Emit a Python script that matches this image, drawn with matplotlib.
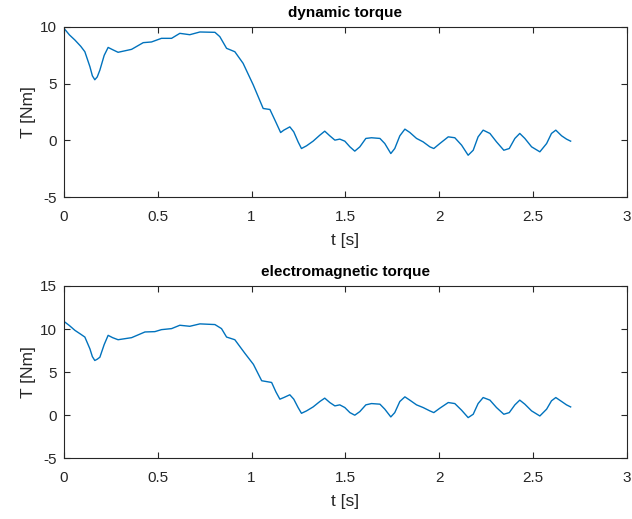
import numpy as np
import matplotlib
matplotlib.use("Agg")
from matplotlib import pyplot as plt

# values
t_dyn = [0.0, 0.03, 0.059, 0.09, 0.112, 0.139, 0.152, 0.165, 0.178, 0.192, 0.215, 0.236, 0.26, 0.289,
         0.361, 0.423, 0.467, 0.52, 0.574, 0.618, 0.671, 0.725, 0.805, 0.831, 0.867, 0.911,
         0.955, 1.009, 1.062, 1.098, 1.13, 1.155, 1.172, 1.204, 1.225, 1.248, 1.266, 1.293,
         1.328, 1.364, 1.39, 1.417, 1.444, 1.47, 1.497, 1.524, 1.55, 1.577, 1.609, 1.639,
         1.684, 1.71, 1.742, 1.763, 1.79, 1.817, 1.843, 1.879, 1.914, 1.95, 1.971, 2.003,
         2.048, 2.083, 2.119, 2.154, 2.181, 2.207, 2.234, 2.27, 2.305, 2.344, 2.373, 2.403,
         2.429, 2.456, 2.492, 2.536, 2.572, 2.598, 2.621, 2.652, 2.678, 2.70]
T_dyn = [9.9, 9.3, 8.85, 8.3, 7.82, 6.5, 5.7, 5.35, 5.6, 6.2, 7.5, 8.2, 8.0, 7.77,
         8.03, 8.62, 8.68, 9.0, 9.0, 9.44, 9.32, 9.56, 9.53, 9.15, 8.12, 7.82,
         6.8, 4.9, 2.82, 2.73, 1.6, 0.7, 0.91, 1.2, 0.76, -0.12, -0.71, -0.47,
         -0.06, 0.47, 0.82, 0.41, 0.03, 0.12, -0.06, -0.56, -0.94, -0.56, 0.18, 0.24,
         0.18, -0.27, -1.15, -0.71, 0.41, 1.0, 0.71, 0.18, -0.12, -0.56, -0.71, -0.27,
         0.32, 0.24, -0.41, -1.3, -0.86, 0.32, 0.91, 0.62, -0.12, -0.86, -0.71, 0.18,
         0.62, 0.18, -0.56, -1.0, -0.27, 0.62, 0.91, 0.41, 0.12, -0.06]

t_em = [0.0, 0.03, 0.059, 0.09, 0.112, 0.139, 0.152, 0.165, 0.178, 0.192, 0.215, 0.236, 0.26, 0.289,
        0.361, 0.432, 0.485, 0.52, 0.574, 0.618, 0.671, 0.725, 0.805, 0.84, 0.867, 0.911,
        0.964, 1.01, 1.054, 1.107, 1.13, 1.151, 1.172, 1.204, 1.225, 1.248, 1.266, 1.293,
        1.328, 1.364, 1.39, 1.417, 1.444, 1.47, 1.497, 1.524, 1.55, 1.577, 1.609, 1.639,
        1.684, 1.71, 1.742, 1.763, 1.79, 1.817, 1.843, 1.879, 1.914, 1.95, 1.971, 2.003,
        2.048, 2.083, 2.119, 2.154, 2.181, 2.207, 2.234, 2.27, 2.305, 2.344, 2.373, 2.403,
        2.429, 2.456, 2.492, 2.536, 2.572, 2.598, 2.621, 2.652, 2.678, 2.70]
T_em = [10.9, 10.4, 9.85, 9.4, 9.07, 7.7, 6.8, 6.35, 6.5, 6.73, 8.2, 9.27, 9.0, 8.76,
        9.0, 9.66, 9.7, 9.93, 10.05, 10.44, 10.32, 10.6, 10.52, 10.05, 9.07, 8.76,
        7.2, 5.9, 4.0, 3.8, 2.7, 1.86, 2.05, 2.37, 1.86, 0.89, 0.22, 0.5,
        0.96, 1.59, 1.98, 1.47, 1.08, 1.2, 0.89, 0.3, 0.0, 0.42, 1.2, 1.35,
        1.28, 0.7, -0.2, 0.3, 1.59, 2.13, 1.75, 1.2, 0.89, 0.5, 0.3, 0.81,
        1.47, 1.35, 0.58, -0.28, 0.11, 1.35, 2.05, 1.75, 0.89, 0.11, 0.3, 1.2,
        1.75, 1.28, 0.5, -0.09, 0.7, 1.67, 2.05, 1.59, 1.2, 0.96]

panels = [
    ("dynamic torque", t_dyn, T_dyn, (-5, 10), [-5, 0, 5, 10]),
    ("electromagnetic torque", t_em, T_em, (-5, 15), [-5, 0, 5, 10, 15]),
]
xticks = [0, 0.5, 1, 1.5, 2, 2.5, 3]

plt.rcParams['font.family'] = ['Liberation Sans', 'DejaVu Sans']
plt.rcParams['axes.unicode_minus'] = False

fig = plt.figure(figsize=(6.32, 5.19), dpi=100)
rects = [[0.101, 0.620, 0.891, 0.328], [0.101, 0.117, 0.891, 0.332]]

edge = '#262626'
for rect, (title, t, T, ylim, yticks) in zip(rects, panels):
    ax = fig.add_axes(rect)
    ax.plot(t, T, color='#0072BD', lw=1.0)
    ax.set_xlim(0, 3)
    ax.set_ylim(*ylim)
    ax.set_xticks(xticks)
    ax.set_xticklabels(["0", "0.5", "1", "1.5", "2", "2.5", "3"])
    ax.set_yticks(yticks)
    ax.tick_params(direction='in', top=True, right=True, length=4, width=0.8,
                   labelsize=11, colors=edge)
    ax.tick_params(axis='x', pad=9)
    ax.tick_params(axis='y', pad=5)
    for s in ax.spines.values():
        s.set_color(edge)
        s.set_linewidth(0.8)
    ax.set_xlabel("t [s]", fontsize=12.5, color=edge, labelpad=7)
    ax.set_ylabel("T [Nm]", fontsize=12.5, color=edge, labelpad=3)
    ax.set_title(title, fontsize=11, fontweight='bold', color='black', pad=7)

plt.savefig("out.png", dpi=100)
